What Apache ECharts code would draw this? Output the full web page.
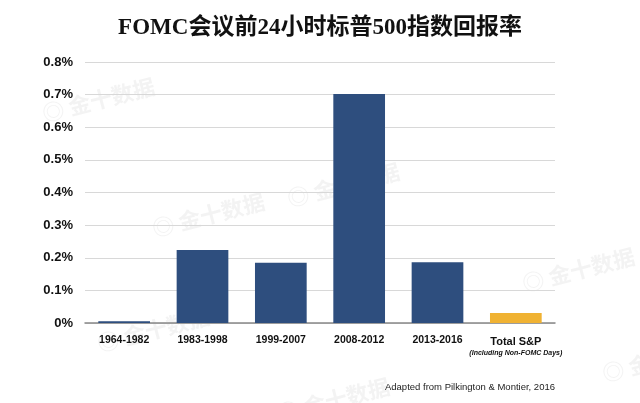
<!DOCTYPE html>
<html><head><meta charset="utf-8">
<script src="https://cdn.jsdelivr.net/npm/echarts@6/dist/echarts.min.js"></script>
<style>html,body{margin:0;padding:0;background:#fff}#c{width:640px;height:403px}</style>
</head><body><div id="c"></div>
<script>
const categories = ['1964-1982','1983-1998','1999-2007','2008-2012','2013-2016','Total S&P'];
const returns = [0.005, 0.224, 0.185, 0.702, 0.186, 0.031];
const barColors = ['#2e4e7e','#2e4e7e','#2e4e7e','#2e4e7e','#2e4e7e','#f0b232'];
const yTicks = [0, 0.1, 0.2, 0.3, 0.4, 0.5, 0.6, 0.7, 0.8];
const titleText = 'FOMC会议前24小时标普500指数回报率';
const sourceText = 'Adapted from Pilkington & Montier, 2016';
const watermarks = [[40,75],[150,190],[285,160],[520,245],[95,305],[275,375],[600,335]];

const chart = echarts.init(document.getElementById('c'));
const wm = watermarks.map(p => ({
  type:'text', left:p[0], top:p[1], rotation: 0.25, silent:true, z:-1,
  style:{text:'◎ 金十数据', fill:'rgba(190,190,190,0.18)', font:'bold 22px "Noto Sans CJK SC"'}
}));
chart.setOption({
  animation:false,
  title:{text:titleText, left:'center', top:12,
    textStyle:{fontFamily:'"Liberation Serif","Noto Sans CJK SC"', fontWeight:'bold', fontSize:23, color:'#111'}},
  grid:{left:85, right:85, top:62, bottom:80},
  xAxis:{type:'category', data:categories,
    axisLine:{lineStyle:{color:'#888', width:1.5}}, axisTick:{show:false},
    axisLabel:{interval:0, margin:12, color:'#111', fontFamily:'"Liberation Sans",Arial', fontWeight:'bold', fontSize:10.5,
      formatter: v => v==='Total S&P' ? '{a|Total S&P}\n{b|(Including Non-FOMC Days)}' : v,
      rich:{a:{fontWeight:'bold', fontSize:11, color:'#111', fontFamily:'"Liberation Sans",Arial', lineHeight:14},
            b:{fontWeight:'bold', fontStyle:'italic', fontSize:7, color:'#111', fontFamily:'"Liberation Sans",Arial', lineHeight:9}}}},
  yAxis:{type:'value', min:0, max:0.8, interval:0.1,
    axisLine:{show:false}, axisTick:{show:false},
    splitLine:{lineStyle:{color:'#d8d8d8', width:1}},
    axisLabel:{margin:12, color:'#111', fontFamily:'"Liberation Sans",Arial', fontWeight:'bold', fontSize:13,
      formatter: v => { const t = yTicks.find(x => Math.abs(x - v) < 1e-6); return (t===0?'0':t.toFixed(1)) + '%'; }}},
  series:[{type:'bar', barWidth:'66%',
    data: returns.map((v,i) => ({value:v, itemStyle:{color:barColors[i]}}))}],
  graphic: wm.concat([{type:'text', right:85, top:382,
    style:{text:sourceText, fill:'#222', font:'9.5px "Liberation Sans",Arial'}}])
});
</script></body></html>
